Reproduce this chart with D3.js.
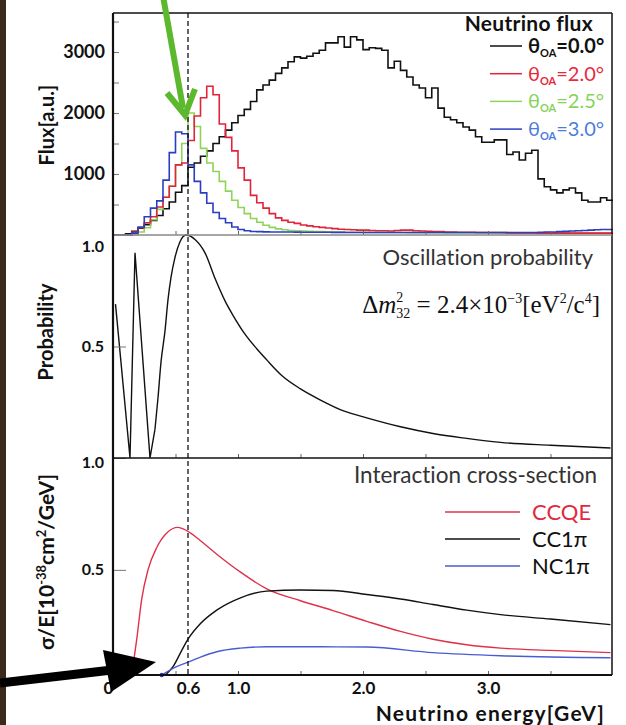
<!DOCTYPE html>
<html>
<head>
<meta charset="utf-8">
<script src="https://cdn.jsdelivr.net/npm/d3@7"></script>
<style>
  body { margin: 0; background: #fff; }
  text { font-family: Lato, "Liberation Sans", sans-serif; font-variant-ligatures: none; }
</style>
</head>
<body>
<div id="chart"></div>
<script>
// flux histograms, 0.05 GeV bins from 0 to 4 GeV
var BIN = 0.05;
var fluxOA00 = [0,0,20,60,110,170,240,320,430,540,
  700,810,1110,1180,1290,1380,1500,1610,1720,1840,
  1960,2060,2190,2380,2460,2540,2650,2740,2840,2920,
  2900,2930,2980,3030,3150,3150,3250,3080,3250,3200,
  3040,3070,3060,3030,2740,2850,2700,2590,2460,2410,
  2250,2410,2080,1930,1890,1840,1770,1720,1610,1520,
  1520,1560,1560,1320,1360,1230,1340,1390,920,790,
  740,690,740,770,690,570,540,540,610,570];
var fluxOA20 = [0,0,0,50,120,200,300,460,620,800,
  1150,1180,1550,1950,2250,2440,2300,1820,1600,1380,
  1100,900,650,530,440,350,280,240,210,190,
  165,150,135,125,115,105,95,90,85,80,
  80,75,70,70,65,75,80,80,70,65,
  60,55,55,50,50,45,45,45,40,40,
  40,40,40,35,35,35,35,35,30,30,
  30,30,30,30,30,30,30,30,30,30];
var fluxOA25 = [0,0,0,0,50,120,250,420,620,800,
  1150,1500,2000,1780,1420,1180,1040,880,720,570,
  450,350,270,210,160,125,100,85,75,70,
  65,60,58,55,52,50,48,46,45,44,
  43,42,42,41,40,40,40,39,38,38,
  37,36,36,35,35,35,34,34,33,33,
  32,32,31,31,30,30,30,30,30,30,
  30,30,30,30,30,30,30,30,30,30];
var fluxOA30 = [0,0,0,30,130,300,440,560,900,1350,
  1690,1660,1150,880,690,520,370,270,200,130,
  90,70,58,55,52,50,50,48,48,47,
  46,45,45,44,44,43,43,42,42,41,
  41,40,40,40,40,40,40,40,40,40,
  40,40,40,40,40,40,40,40,40,40,
  40,40,40,40,40,40,40,42,45,48,
  50,55,60,65,70,75,80,85,90,90];

// oscillation probability [E, P]
var probPts = [[0.02,0.69],[0.136,0],[0.176,0.92],[0.296,0],[0.336,0.13],[0.36,0.27],
  [0.384,0.43],[0.416,0.57],[0.44,0.71],[0.464,0.81],[0.496,0.90],[0.536,0.97],[0.584,1.0],
  [0.656,0.98],[0.736,0.92],[0.82,0.80],[0.9,0.70],[0.96,0.64],[1.05,0.56],[1.15,0.49],
  [1.23,0.44],[1.35,0.37],[1.5,0.31],[1.66,0.26],[1.85,0.21],[2.03,0.18],[2.3,0.14],
  [2.56,0.11],[2.8,0.09],[3.1,0.07],[3.5,0.057],[3.98,0.045]];

// cross sections [E, sigma/E]
var ccqe = [[0.15,0.03],[0.19,0.19],[0.23,0.37],[0.28,0.5],[0.35,0.6],[0.43,0.665],[0.52,0.69],
  [0.59,0.675],[0.70,0.63],[0.83,0.57],[1.02,0.49],[1.23,0.415],[1.5,0.362],[1.76,0.318],
  [2.03,0.27],[2.3,0.225],[2.56,0.19],[2.83,0.165],[3.1,0.15],[3.5,0.14],[3.98,0.13]];
var cc1pi = [[0.42,0.03],[0.48,0.067],[0.55,0.14],[0.60,0.19],[0.70,0.26],[0.83,0.32],[1.02,0.375],
  [1.23,0.405],[1.5,0.41],[1.76,0.408],[2.03,0.39],[2.3,0.37],[2.56,0.345],[2.83,0.32],[3.1,0.30],
  [3.5,0.28],[3.98,0.255]];
var nc1pi = [[0.39,0.03],[0.48,0.06],[0.59,0.085],[0.70,0.11],[0.83,0.134],[1.02,0.15],[1.23,0.156],
  [1.66,0.156],[2.03,0.155],[2.56,0.13],[3.1,0.116],[3.98,0.107]];

var fluxTicks = [500,1000,1500,2000,2500,3000,3500];
var energyTicks = [0,0.6,1,2,3];
var fluxLegend = [
  {label: "=0.0°", color: "#111", text: "#111", vals: fluxOA00},
  {label: "=2.0°", color: "#e2233a", text: "#e8283c", vals: fluxOA20},
  {label: "=2.5°", color: "#8fd45a", text: "#86d35a", vals: fluxOA25},
  {label: "=3.0°", color: "#2a3fbf", text: "#4d7ddb", vals: fluxOA30}
];
var xsLegend = [
  {label: "CCQE", color: "#e0304a", text: "#e02a40", pts: ccqe},
  {label: "CC1π", color: "#111", text: "#111", pts: cc1pi},
  {label: "NC1π", color: "#4a5cd0", text: "#111", pts: nc1pi}
];

var W = 626, H = 725;
var svg = d3.select("#chart").append("svg").attr("width", W).attr("height", H);

var x = d3.scaleLinear().domain([0, 4]).range([113, 613]);
var yF = d3.scaleLinear().domain([0, 3640]).range([235, 13]);
var yP = d3.scaleLinear().domain([0, 1]).range([458, 235]);
var yC = d3.scaleLinear().domain([0.03, 1]).range([675, 458]);

// brown strip on the left edge
svg.append("rect").attr("width", 6).attr("height", H).attr("fill", "#3b2a1c");

// histograms
var hist = d3.line().curve(d3.curveStepAfter)
  .x(function (d) { return x(d[0]); })
  .y(function (d) { return yF(d[1]); });
[0, 2, 1, 3].forEach(function (k) {
  var s = fluxLegend[k];
  var pts = s.vals.map(function (v, i) { return [i * BIN, v]; });
  pts.push([s.vals.length * BIN, s.vals[s.vals.length - 1]]);
  svg.append("path").attr("d", hist(pts))
    .attr("fill", "none").attr("stroke", s.color).attr("stroke-width", 1.6);
});

// probability
var lineP = d3.line().x(function (d) { return x(d[0]); }).y(function (d) { return yP(d[1]); });
svg.append("path").attr("d", lineP(probPts.slice(0, 5)))
  .attr("fill", "none").attr("stroke", "#111").attr("stroke-width", 1.4);
svg.append("path").attr("d", lineP.curve(d3.curveMonotoneX)(probPts.slice(4)))
  .attr("fill", "none").attr("stroke", "#111").attr("stroke-width", 1.4);

// cross sections
var lineC = d3.line().curve(d3.curveMonotoneX)
  .x(function (d) { return x(d[0]); }).y(function (d) { return yC(d[1]); });
xsLegend.forEach(function (s) {
  svg.append("path").attr("d", lineC(s.pts))
    .attr("fill", "none").attr("stroke", s.color).attr("stroke-width", 1.4);
});
svg.append("circle").attr("cx", x(nc1pi[0][0])).attr("cy", yC(nc1pi[0][1])).attr("r", 2.2).attr("fill", "#2a3fbf");

// minor ticks along each panel bottom
[235, 458, 675].forEach(function (yb) {
  var g = svg.append("g").attr("transform", "translate(0," + yb + ")")
    .call(d3.axisBottom(x).tickValues([0.5,1,1.5,2,2.5,3,3.5]).tickSize(-4).tickFormat(""));
  g.select(".domain").remove();
  g.selectAll("line").attr("stroke", "#666");
});

// y axes
function styleY(g, size) {
  g.select(".domain").remove();
  g.selectAll("line").attr("stroke", "#777");
  g.selectAll("text").attr("font-size", size).attr("font-weight", "bold").attr("fill", "#111")
    .style("font-family", "Lato, 'Liberation Sans', sans-serif");
}
var gF = svg.append("g").attr("transform", "translate(113,0)")
  .call(d3.axisLeft(yF).tickValues(fluxTicks).tickSize(-6).tickPadding(8)
    .tickFormat(function (d) { return d % 1000 ? "" : d; }));
styleY(gF, 18);

var gP = svg.append("g").attr("transform", "translate(113,0)")
  .call(d3.axisLeft(yP).tickValues([0.5, 1]).tickSize(-13).tickPadding(9).tickFormat(d3.format(".1f")));
styleY(gP, 16);
gP.selectAll("text").filter(function (d) { return d === 1; }).attr("dy", "1.0em");

var gC = svg.append("g").attr("transform", "translate(113,0)")
  .call(d3.axisLeft(yC).tickValues([0.5, 1]).tickSize(-13).tickPadding(9).tickFormat(d3.format(".1f")));
styleY(gC, 16);
gC.selectAll("text").filter(function (d) { return d === 1; }).attr("dy", "0.6em");

// x axis labels
var gX = svg.append("g").attr("transform", "translate(0,675)")
  .call(d3.axisBottom(x).tickValues(energyTicks).tickSize(0).tickPadding(7)
    .tickFormat(function (d) { return d === 0 ? "0" : d.toFixed(1); }));
gX.select(".domain").remove();
gX.selectAll("text").attr("font-size", 17).attr("font-weight", "bold").attr("fill", "#111")
  .style("font-family", "Lato, 'Liberation Sans', sans-serif");
gX.selectAll("text").filter(function (d) { return d === 0; }).attr("dx", -5);

// frame
var frame = svg.append("g").attr("stroke", "#111").attr("fill", "none");
frame.append("line").attr("x1", 612).attr("x2", 612).attr("y1", 13).attr("y2", 675).attr("stroke-width", 1.5);
frame.append("line").attr("x1", 113).attr("x2", 612).attr("y1", 13).attr("y2", 13).attr("stroke-width", 1.6);
frame.append("line").attr("x1", 113).attr("x2", 612).attr("y1", 235).attr("y2", 235).attr("stroke", "#888").attr("stroke-width", 1.5);
frame.append("line").attr("x1", 113).attr("x2", 612).attr("y1", 458).attr("y2", 458).attr("stroke-width", 1.6);
frame.append("line").attr("x1", 113).attr("x2", 612).attr("y1", 675).attr("y2", 675).attr("stroke-width", 1.8);
frame.append("line").attr("x1", 113).attr("x2", 113).attr("y1", 13).attr("y2", 676).attr("stroke-width", 2.2);

// dashed line at 0.6 GeV
svg.append("line").attr("x1", x(0.6)).attr("x2", x(0.6)).attr("y1", 13).attr("y2", 675)
  .attr("stroke", "#111").attr("stroke-width", 1.3).attr("stroke-dasharray", "5,3");

// axis titles
function vtitle(cx, cy, size) {
  return svg.append("text").attr("transform", "translate(" + cx + "," + cy + ") rotate(-90)")
    .attr("text-anchor", "middle").attr("font-size", size).attr("font-weight", "bold").attr("fill", "#111");
}
vtitle(54, 125, 20).text("Flux[a.u.]");
vtitle(53, 332, 20).text("Probability");
var sig = vtitle(54, 562, 21);
sig.append("tspan").text("σ/E[10");
sig.append("tspan").attr("font-size", 13).attr("dy", -8).text("-38");
sig.append("tspan").attr("dy", 8).text("cm");
sig.append("tspan").attr("font-size", 13).attr("dy", -8).text("2");
sig.append("tspan").attr("dy", 8).text("/GeV]");

svg.append("text").attr("x", 605).attr("y", 721).attr("text-anchor", "end")
  .attr("font-size", 21).attr("font-weight", "bold").attr("letter-spacing", 1.2)
  .attr("fill", "#111").text("Neutrino energy[GeV]");

// flux legend
svg.append("text").attr("x", 593).attr("y", 31).attr("text-anchor", "end")
  .attr("font-size", 21).attr("font-weight", "bold").attr("letter-spacing", 0.3)
  .attr("fill", "#111").text("Neutrino flux");
fluxLegend.forEach(function (s, i) {
  var ly = 46 + i * 27.7;
  svg.append("line").attr("x1", 490).attr("x2", 522).attr("y1", ly).attr("y2", ly)
    .attr("stroke", s.color).attr("stroke-width", 1.5);
  var t = svg.append("text").attr("x", 528).attr("y", ly + 7).attr("fill", s.text)
    .attr("font-size", 20).attr("font-weight", i === 0 ? "bold" : "normal");
  t.append("tspan").text("θ");
  t.append("tspan").attr("font-size", 11).attr("font-weight", "bold").attr("dy", 4).text("OA");
  t.append("tspan").attr("dy", -4).text(s.label);
});

// probability texts
svg.append("text").attr("x", 593).attr("y", 265).attr("text-anchor", "end")
  .attr("font-size", 22).attr("fill", "#333").text("Oscillation probability");
var fm = svg.append("text").attr("x", 600).attr("y", 313).attr("text-anchor", "end")
  .attr("font-size", 25).attr("fill", "#111").style("font-family", "'Liberation Serif', 'DejaVu Serif', serif");
fm.append("tspan").text("Δ");
fm.append("tspan").attr("font-style", "italic").text("m");
fm.append("tspan").attr("font-size", 14).attr("dy", 5).text("32");
fm.append("tspan").attr("font-size", 14).attr("dx", -14).attr("dy", -16).text("2");
fm.append("tspan").attr("dx", 7).attr("dy", 11).text(" = 2.4×10");
fm.append("tspan").attr("font-size", 14).attr("dy", -10).text("−3");
fm.append("tspan").attr("dy", 10).text("[eV");
fm.append("tspan").attr("font-size", 14).attr("dy", -10).text("2");
fm.append("tspan").attr("dy", 10).text("/c");
fm.append("tspan").attr("font-size", 14).attr("dy", -10).text("4");
fm.append("tspan").attr("dy", 10).text("]");

// cross-section texts
svg.append("text").attr("x", 597).attr("y", 483).attr("text-anchor", "end")
  .attr("font-size", 22.5).attr("fill", "#333").text("Interaction cross-section");
xsLegend.forEach(function (s, i) {
  var ly = 512 + i * 27;
  svg.append("line").attr("x1", 445).attr("x2", 520).attr("y1", ly).attr("y2", ly)
    .attr("stroke", s.color).attr("stroke-width", 1.5);
  svg.append("text").attr("x", 532).attr("y", ly + 8).attr("fill", s.text)
    .attr("font-size", 22).text(s.label);
});

// arrows
var green = "#5cb82c";
svg.append("line").attr("x1", 163).attr("y1", -4).attr("x2", 183).attr("y2", 108)
  .attr("stroke", green).attr("stroke-width", 6);
svg.append("polyline").attr("points", "167,93 185,115 195,89")
  .attr("fill", "none").attr("stroke", green).attr("stroke-width", 6).attr("stroke-linejoin", "miter");
svg.append("line").attr("x1", 0).attr("y1", 683).attr("x2", 112).attr("y2", 670)
  .attr("stroke", "#000").attr("stroke-width", 9);
svg.append("polygon").attr("points", "156,662 103,650 111,692").attr("fill", "#000");
</script>
</body>
</html>
